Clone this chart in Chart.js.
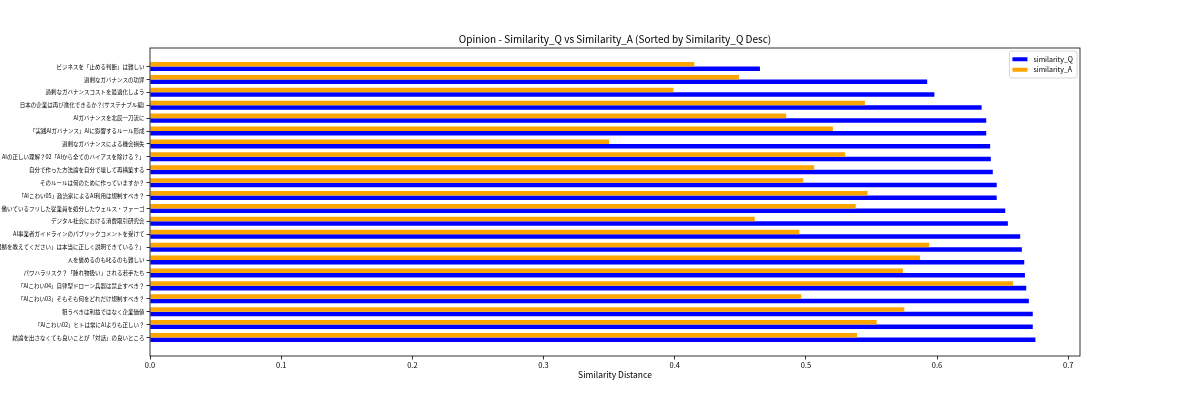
<!DOCTYPE html>
<html>
<head>
<meta charset="utf-8">
<script src="https://cdn.jsdelivr.net/npm/chart.js@4"></script>
<style>
  html, body { margin: 0; padding: 0; background: #fff; }
  #wrap { width: 1200px; height: 400px; }
</style>
</head>
<body>
<div id="wrap"><canvas id="chart"></canvas></div>
<script>
// titles, sorted by similarity_Q desc (first item is drawn at the bottom)
const titles = [
  "結論を出さなくても良いことが「対話」の良いところ",
  "「AIこわい02」ヒトは常にAIよりも正しい？",
  "狙うべきは利益ではなく企業価値",
  "「AIこわい03」そもそも何をどれだけ規制すべき？",
  "「AIこわい04」自律型ドローン兵器は禁止すべき？",
  "パワハラリスク？「腫れ物扱い」される若手たち",
  "人を褒めるのも叱るのも難しい",
  "「根拠を教えてください」は本当に正しく説明できている？」",
  "AI事業者ガイドラインのパブリックコメントを受けて",
  "デジタル社会における消費取引研究会",
  "働いているフリした従業員を処分したウェルス・ファーゴ",
  "「AIこわい05」政治家によるAI利用は規制すべき？",
  "そのルールは何のために作っていますか？",
  "自分で作った方法論を自分で壊して再構築する",
  "AIの正しい理解？02「AIから全てのバイアスを除ける？」",
  "過剰なガバナンスによる機会損失",
  "「実践AIガバナンス」AIに影響するルール形成",
  "AIガバナンスを北辰一刀流に",
  "日本の企業は再び進化できるか？(サステナブル編)",
  "過剰なガバナンスコストを最適化しよう",
  "過剰なガバナンスの功罪",
  "ビジネスを「止める判断」は難しい"
];

const similarityQ = [0.675, 0.673, 0.673, 0.670, 0.668, 0.667, 0.6665, 0.6647, 0.6634, 0.654, 0.652,
  0.6455, 0.6455, 0.6425, 0.641, 0.6405, 0.6375, 0.6375, 0.634, 0.598, 0.5925, 0.465];
const similarityA = [0.539, 0.554, 0.575, 0.4964, 0.658, 0.574, 0.587, 0.594, 0.495, 0.461, 0.538,
  0.547, 0.498, 0.5063, 0.530, 0.350, 0.5206, 0.485, 0.545, 0.399, 0.449, 0.415];

const xTicks = [0.0, 0.1, 0.2, 0.3, 0.4, 0.5, 0.6, 0.7];

const FONT = "'Noto Sans CJK JP', 'Noto Sans', sans-serif";

// matplotlib style frame (all four spines)
const framePlugin = {
  id: "frame",
  afterDatasetsDraw(chart) {
    const { ctx, chartArea: ca } = chart;
    ctx.save();
    ctx.strokeStyle = "#000";
    ctx.lineWidth = 0.8;
    ctx.strokeRect(ca.left, ca.top, ca.right - ca.left, ca.bottom - ca.top);
    ctx.restore();
  }
};

// legend box inside the plot, upper right
const innerLegend = {
  id: "innerLegend",
  afterDraw(chart) {
    const { ctx, chartArea: ca } = chart;
    // legend order: Q then A
    const items = [chart.data.datasets[1], chart.data.datasets[0]];
    ctx.save();
    ctx.font = "7px " + FONT;
    let textW = 0;
    items.forEach(d => { textW = Math.max(textW, ctx.measureText(d.label).width); });
    const pad = 3, swatch = 15, gap = 6, rowH = 10.5;
    const w = pad + swatch + gap + textW + pad + 1;
    const h = pad * 2 + rowH * items.length;
    const x = ca.right - 3 - w;
    const y = ca.top + 3;
    ctx.fillStyle = "rgba(255,255,255,0.85)";
    ctx.strokeStyle = "#cccccc";
    ctx.lineWidth = 0.8;
    ctx.beginPath();
    ctx.roundRect(x, y, w, h, 2);
    ctx.fill();
    ctx.stroke();
    items.forEach((d, i) => {
      const cy = y + pad + rowH * i + rowH / 2;
      ctx.fillStyle = d.backgroundColor;
      ctx.fillRect(x + pad, cy - 2, swatch, 4);
      ctx.fillStyle = "#000";
      ctx.textBaseline = "middle";
      ctx.fillText(d.label, x + pad + swatch + gap, cy);
    });
    ctx.restore();
  }
};

const data = {
  datasets: [
    {
      label: "similarity_A",
      data: similarityA.map((v, i) => ({ x: v, y: i })),
      backgroundColor: "#ffa500",
      borderWidth: 0
    },
    {
      label: "similarity_Q",
      data: similarityQ.map((v, i) => ({ x: v, y: i })),
      backgroundColor: "#0000ff",
      borderWidth: 0
    }
  ]
};

const config = {
  type: "bar",
  data: data,
  options: {
    indexAxis: "y",
    responsive: true,
    maintainAspectRatio: false,
    animation: false,
    layout: { padding: { left: 0, right: 120, top: 0, bottom: 20 } },
    categoryPercentage: 0.7,
    barPercentage: 1.0,
    plugins: {
      legend: { display: false },
      tooltip: { enabled: false },
      title: {
        display: true,
        text: "Opinion - Similarity_Q vs Similarity_A (Sorted by Similarity_Q Desc)",
        fullSize: false,
        color: "#000",
        font: { family: FONT, size: 10, weight: "normal" },
        padding: { top: 33, bottom: 3 }
      }
    },
    scales: {
      x: {
        type: "linear",
        min: 0,
        max: 0.709,
        border: { display: false },
        grid: { drawOnChartArea: false, drawTicks: true, tickLength: 3.5, color: "#000", lineWidth: 0.8 },
        afterBuildTicks: (scale) => { scale.ticks = xTicks.map(v => ({ value: v })); },
        ticks: {
          color: "#000",
          padding: 1.5,
          maxRotation: 0,
          font: { family: FONT, size: 7.5 },
          callback: (v) => Number(v).toFixed(1)
        },
        title: {
          display: true,
          text: "Similarity Distance",
          color: "#000",
          font: { family: FONT, size: 8.5 },
          padding: { top: 0, bottom: 0 }
        },
        afterFit: (scale) => { scale.height = 24; }
      },
      y: {
        type: "linear",
        min: -1.435,
        max: 22.435,
        offset: false,
        border: { display: false },
        grid: { offset: false, drawOnChartArea: false, drawTicks: true, tickLength: 3.5, color: "#000", lineWidth: 0.8 },
        afterBuildTicks: (scale) => { scale.ticks = titles.map((t, i) => ({ value: i })); },
        ticks: {
          color: "#000",
          padding: 2,
          autoSkip: false,
          font: { family: FONT, size: 5.5 },
          callback: (v) => titles[v] || ""
        },
        afterFit: (scale) => { scale.width = 150; }
      }
    }
  },
  plugins: [framePlugin, innerLegend]
};

const simChart = new Chart(document.getElementById("chart"), config);
</script>
</body>
</html>
